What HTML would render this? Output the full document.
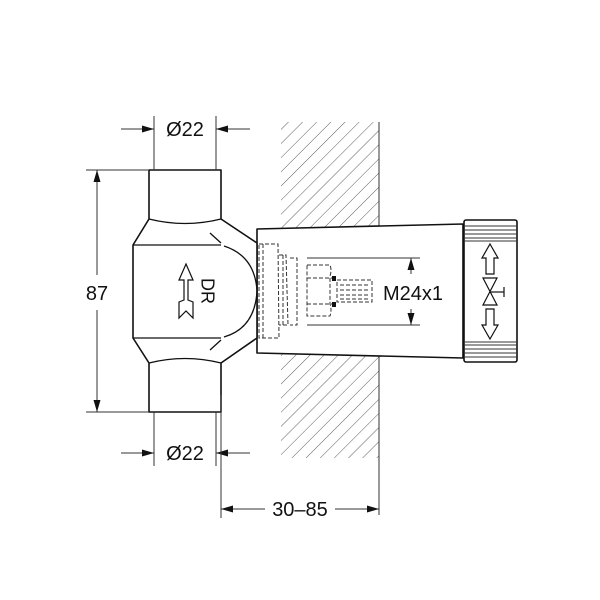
<!DOCTYPE html>
<html><head><style>body{margin:0;background:#fff}svg{display:block}</style></head><body>
<svg width="600" height="600" viewBox="0 0 600 600" xmlns="http://www.w3.org/2000/svg" font-family="Liberation Sans, sans-serif">
<defs>
<pattern id="h" width="10" height="10" patternUnits="userSpaceOnUse" patternTransform="rotate(45)">
<line x1="0" y1="0" x2="0" y2="10" stroke="#333" stroke-width="0.8"/></pattern>
<marker id="a" viewBox="0 0 12 7" refX="12" refY="3.5" markerWidth="13" markerHeight="7" orient="auto-start-reverse" markerUnits="userSpaceOnUse"><path d="M0,0L12,3.5L0,7z" fill="#111"/></marker>
</defs>
<rect x="281" y="122" width="98" height="107" fill="url(#h)"/>
<rect x="281" y="353" width="98" height="105" fill="url(#h)"/>
<line x1="379" y1="122" x2="379" y2="515" stroke="#333" stroke-width="1"/>
<g fill="#fff" stroke="#111" stroke-width="1.6" stroke-linejoin="round">
<path d="M257,229 L463,224 L463,358 L257,353 Z"/>
<rect x="464" y="220" width="53" height="142" rx="2"/>
<path d="M149,170 L221,170 L221,219 L257,243 L257,338 L221,363 L221,412 L149,412 L149,363 L133,338 L133,245 L149,219 Z"/>
</g>
<g fill="none" stroke="#111" stroke-width="1.3">
<path d="M149,219 Q185,228 221,219"/>
<path d="M149,363 Q185,354 221,363"/>
<line x1="133" y1="245" x2="221" y2="245"/>
<line x1="133" y1="338" x2="221" y2="338"/>
<path d="M224,246 Q255,256 257,291 Q255,328 224,337"/>
<line x1="210" y1="233" x2="221" y2="243"/>
<line x1="210" y1="350" x2="221" y2="340"/>
</g>
<g stroke="#333" stroke-width="1">
<line x1="464" y1="226" x2="517" y2="226"/><line x1="464" y1="230" x2="517" y2="230"/><line x1="464" y1="234" x2="517" y2="234"/><line x1="464" y1="238" x2="517" y2="238"/><line x1="464" y1="241" x2="517" y2="241"/>
<line x1="464" y1="342" x2="517" y2="342"/><line x1="464" y1="345" x2="517" y2="345"/><line x1="464" y1="349" x2="517" y2="349"/><line x1="464" y1="353" x2="517" y2="353"/><line x1="464" y1="357" x2="517" y2="357"/>
</g>
<g fill="#fff" stroke="#111" stroke-width="1.2">
<path d="M490,244 L498,258 L494,258 L494,274 L486,274 L486,258 L482,258 Z"/>
<path d="M490,339 L498,325 L494,325 L494,309 L486,309 L486,325 L482,325 Z"/>
<path d="M483,278 L497,305 L483,305 L497,278 Z"/>
<line x1="490" y1="292" x2="504" y2="292"/><line x1="504" y1="287" x2="504" y2="297"/>
</g>
<g fill="none" stroke="#333" stroke-width="1" stroke-dasharray="4,2">
<path d="M259,244 L278,244 L279,338 L259,338 Z"/>
<path d="M263,244 L263,338"/>
<path d="M279,255 L286,255 L288,325 L279,325"/>
<path d="M283,255 L283,325"/>
<path d="M290,258 L297,258 L297,325 L290,325"/>
<path d="M307,265 L330,265 Q332,270 330,276 L330,304 Q332,310 330,316 L307,316 Z"/>
<path d="M307,278 L334,278 M307,304 L334,304"/>
<path d="M337,280 L372,280 L372,302 L337,302 Z"/>
<path d="M340,285 L370,285 M340,290 L370,290 M340,295 L370,295 M340,299 L370,299"/>
</g>
<rect x="332" y="276" width="4" height="5" fill="#111"/><rect x="332" y="302" width="4" height="5" fill="#111"/>
<g stroke="#333" stroke-width="1">
<line x1="307" y1="258" x2="420" y2="258"/><line x1="307" y1="325" x2="420" y2="325"/>
<line x1="411" y1="274" x2="411" y2="258" marker-end="url(#a)"/>
<line x1="411" y1="309" x2="411" y2="325" marker-end="url(#a)"/>
</g>
<text x="413" y="300" font-size="20" text-anchor="middle" fill="#111">M24x1</text>
<g fill="#fff" stroke="#111" stroke-width="1.2">
<path d="M186,264 L193,280 L188,280 L188,300 L193,302 L193,318 L186,311 L179,318 L179,302 L184,300 L184,280 L179,280 Z"/>
</g>
<text x="206" y="291" font-size="18" fill="#111" text-anchor="middle" transform="rotate(90 206 291)" dominant-baseline="middle">DR</text>
<g stroke="#333" stroke-width="1">
<line x1="154" y1="116" x2="154" y2="170"/><line x1="216" y1="116" x2="216" y2="170"/>
<line x1="121" y1="129" x2="154" y2="129" marker-end="url(#a)"/>
<line x1="250" y1="129" x2="216" y2="129" marker-end="url(#a)"/>
<line x1="154" y1="412" x2="154" y2="466"/><line x1="216" y1="412" x2="216" y2="466"/>
<line x1="121" y1="453" x2="154" y2="453" marker-end="url(#a)"/>
<line x1="250" y1="453" x2="216" y2="453" marker-end="url(#a)"/>
<line x1="86" y1="170" x2="149" y2="170"/><line x1="86" y1="412" x2="149" y2="412"/>
<line x1="97" y1="275" x2="97" y2="170" marker-end="url(#a)"/>
<line x1="97" y1="310" x2="97" y2="412" marker-end="url(#a)"/>
<line x1="221" y1="395" x2="221" y2="518"/>
<line x1="265" y1="509" x2="221" y2="509" marker-end="url(#a)"/>
<line x1="335" y1="509" x2="379" y2="509" marker-end="url(#a)"/>
</g>
<g font-size="20" fill="#111" text-anchor="middle">
<text x="185" y="136">Ø22</text>
<text x="185" y="460">Ø22</text>
<text x="97" y="300">87</text>
<text x="300" y="516">30–85</text>
</g>
</svg>
</body></html>
